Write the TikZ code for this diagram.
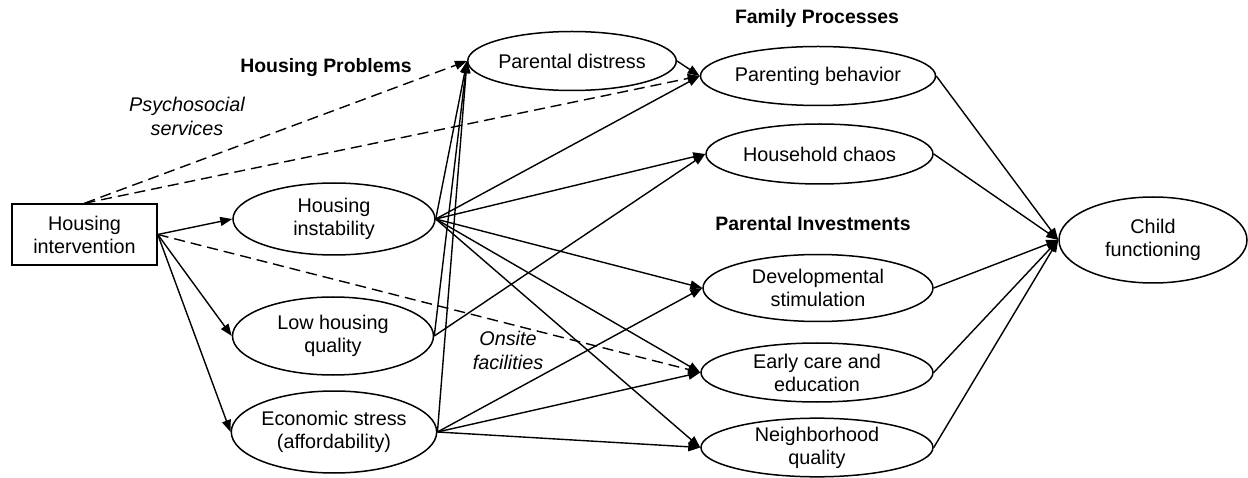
\documentclass[tikz,border=0pt]{standalone}
\usepackage{fontspec}
\setmainfont{Liberation Sans}
\usetikzlibrary{shapes.geometric,arrows.meta}
\begin{document}
\begin{tikzpicture}[x=1pt,y=-1pt,
  font=\fontsize{19.8}{23}\selectfont,
  oval/.style={draw,ellipse,line width=1.5pt,inner sep=0pt,align=center},
  ibox/.style={draw,rectangle,line width=1.5pt,inner sep=0pt,align=center,
    minimum width=145pt,minimum height=61pt},
  heading/.style={font=\fontsize{19.4}{23}\selectfont\bfseries},
  note/.style={font=\fontsize{19.8}{24}\selectfont\itshape,align=center},
  path/.style={line width=1.4pt,-{Triangle[length=12pt,width=9pt]}},
  opt/.style={path,dash pattern=on 11pt off 6pt}]
\useasboundingbox (0,0) rectangle (1248,478);

% exogenous intervention
\node[ibox] (hint) at (84.5,234.5) {Housing\\intervention};

% housing problems
\node[oval,minimum width=202pt,minimum height=72pt] (inst) at (334,219) {Housing\\instability};
\node[oval,minimum width=201pt,minimum height=78pt] (qual) at (333,336) {Low housing\\quality};
\node[oval,minimum width=203pt,minimum height=82pt] (econ) at (334,432) {Economic stress\\(affordability)};

% mediators
\node[oval,minimum width=171pt,minimum height=59pt] (dist) at (572,61) {Parental distress};
\node[oval,minimum width=230pt,minimum height=59pt] (pbeh) at (818,76) {Parenting behavior};
\node[oval,minimum width=227pt,minimum height=60pt] (chaos) at (819.5,154) {Household chaos};
\node[oval,minimum width=230pt,minimum height=67pt] (stim) at (818,288) {Developmental\\stimulation};
\node[oval,minimum width=232pt,minimum height=59pt] (care) at (817,372.5) {Early care and\\education};
\node[oval,minimum width=232pt,minimum height=58pt] (nbhd) at (817,447.5) {Neighborhood\\quality};

% outcome
\node[oval,minimum width=188pt,minimum height=86pt] (child) at (1153,240) {Child\\functioning};

% headings and path notes
\node[heading] (hpHead) at (326,68) {Housing Problems};
\node[heading] (fpHead) at (817,18) {Family Processes};
\node[heading] (piHead) at (813,224) {Parental Investments};
\node[note] (psy) at (187,116) {Psychosocial\\services};
\node[note] (onsite) at (508,350) {Onsite\\facilities};

% intervention paths
\draw[path] (hint.east) -- (inst.west);
\draw[path] (hint.east) -- (qual.west);
\draw[path] (hint.east) -- (econ.west);
\draw[opt] (hint.north) -- (dist.west);
\draw[opt] (hint.north) -- (pbeh.west);
\draw[opt] (hint.east) -- (care.west);

% housing instability
\draw[path] (inst.east) -- (dist.west);
\draw[path] (inst.east) -- (pbeh.west);
\draw[path] (inst.east) -- (chaos.west);
\draw[path] (inst.east) -- (stim.west);
\draw[path] (inst.east) -- (care.west);
\draw[path] (inst.east) -- (nbhd.west);

% low housing quality
\draw[path] (qual.east) -- (dist.west);
\draw[path] (qual.east) -- (chaos.west);

% economic stress
\draw[path] (econ.east) -- (dist.west);
\draw[path] (econ.east) -- (stim.west);
\draw[path] (econ.east) -- (care.west);
\draw[path] (econ.east) -- (nbhd.west);

% distress to parenting
\draw[path] (dist.east) -- (pbeh.west);

% to child functioning
\draw[path] (pbeh.east) -- (child.west);
\draw[path] (chaos.east) -- (child.west);
\draw[path] (stim.east) -- (child.west);
\draw[path] (care.east) -- (child.west);
\draw[path] (nbhd.east) -- (child.west);
\end{tikzpicture}
\end{document}
